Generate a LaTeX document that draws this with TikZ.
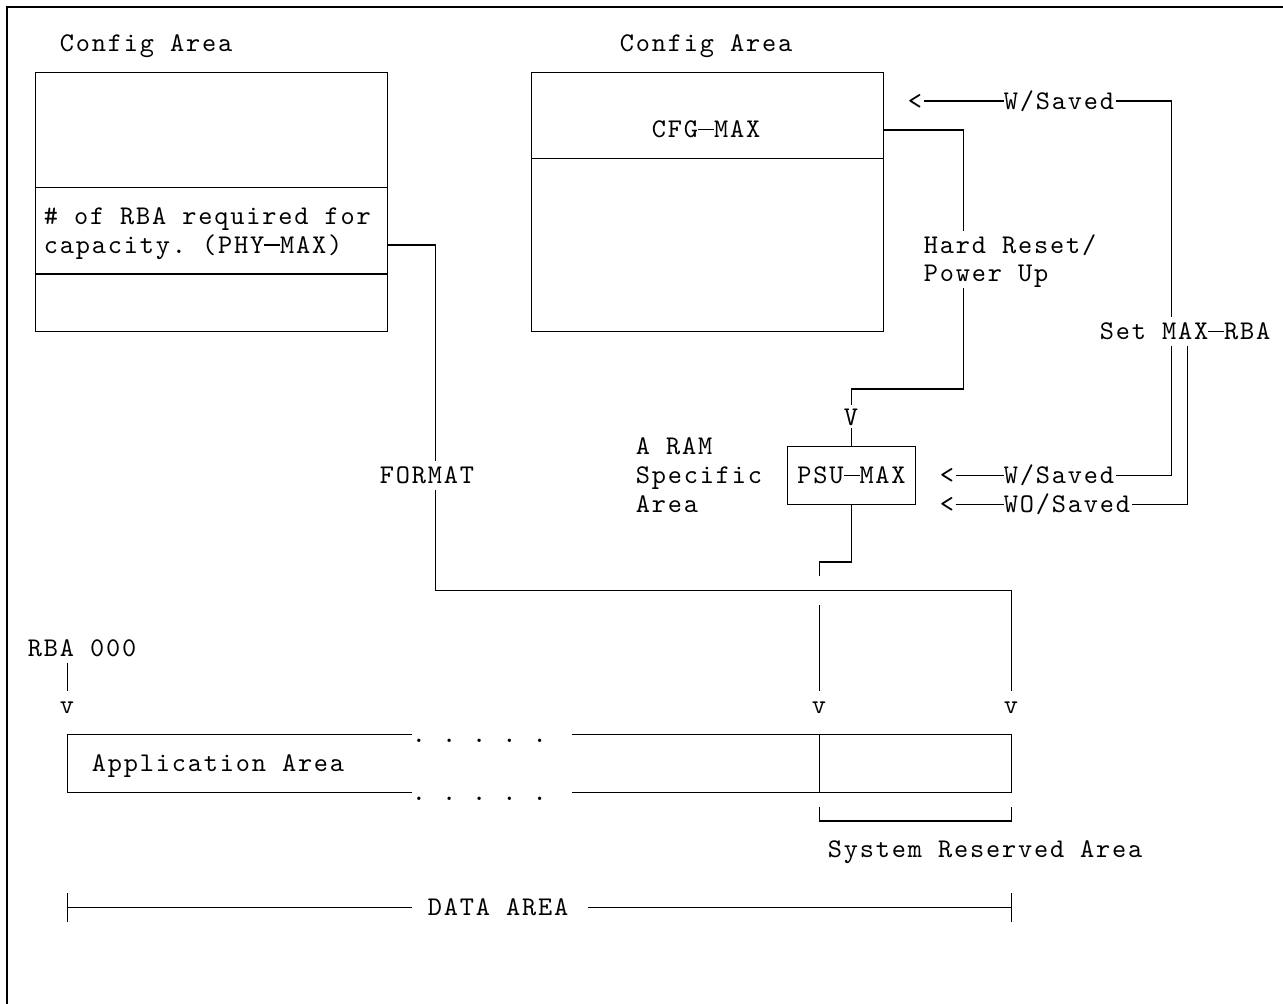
\documentclass[tikz,border=0pt]{standalone}
\usepackage{fontspec}
\newfontfamily\asciifont{lmmono10-regular}[Extension=.otf, LetterSpace=6.74]
\usetikzlibrary{positioning}

\newcommand\asciisize{\asciifont\fontsize{13.5}{14.4}\selectfont\frenchspacing\spaceskip=8pt\relax}
\newcommand\cdash{\rule[3.7pt]{8pt}{0.6pt}}
\tikzset{
  txt/.style={inner sep=0pt, text height=8pt, text depth=0pt, anchor=west, font=\asciisize},
  box/.style={draw, line width=0.65pt, inner sep=0pt, font=\asciisize, text height=8pt, text depth=0pt},
  wire/.style={line width=0.65pt},
}

\begin{document}
\begin{tikzpicture}[x=8pt, y=-14.4pt]
\useasboundingbox (-0.21875,-1.5104) rectangle (79.97,33.35);
% frame
\draw[wire] (0.21875,33.35) |- (79.97,-1.2674);

% config areas
\node[txt] (titleA) at (3.5,0) {Config Area};
\node[txt] (titleB) at (38.5,0) {Config Area};
\node[box, minimum width=176pt, minimum height=129.6pt] (cfgA) at (13,5.5) {};
\node[box, minimum width=176pt, minimum height=129.6pt] (cfgB) at (44,5.5) {};
\draw[wire] (2,5) -- (24,5);
\draw[wire] (2,8) -- (24,8);
\draw[wire] (33,4) -- (55,4);
\node[txt] (phyA) at (2.5,6) {\# of RBA required for};
\node[txt] (phyB) at (2.5,7) {capacity. (PHY\cdash MAX)};
\node[txt] (cfgmax) at (40.5,3) {CFG\cdash MAX};

% PSU
\node[box, minimum width=64pt, minimum height=28.8pt] (psu) at (53,15) {PSU\cdash MAX};
\node[txt] (ram1) at (39.5,14) {A RAM};
\node[txt] (ram2) at (39.5,15) {Specific};
\node[txt] (ram3) at (39.5,16) {Area};
\node[txt] (vpsu) at (52.5,13) {V};

% hard reset
\node[txt] (reset1) at (57.5,7) {Hard Reset/};
\node[txt] (reset2) at (57.5,8) {Power Up};
\draw[wire] (cfgB.east |- cfgmax.west) -- (60,3) -- (60,6.5);
\draw[wire] (60,8.5) -- (60,12) -- (53,12) -- (53,12.55);
\draw[wire] (53,13.35) -- (psu.north);

% set max-rba
\node[txt] (ltA) at (56.5,2) {<};
\node[txt] (savA) at (62.5,2) {W/Saved};
\node[txt] (setmax) at (68.5,10) {Set MAX\cdash RBA};
\node[txt] (ltB) at (58.5,15) {<};
\node[txt] (savB) at (62.5,15) {W/Saved};
\node[txt] (ltC) at (58.5,16) {<};
\node[txt] (savC) at (62.5,16) {WO/Saved};
\draw[wire] (57.5,2) -- (62.5,2);
\draw[wire] (69.5,2) -- (73,2) -- (73,9.5);
\draw[wire] (73,10.5) -- (73,15) -- (69.5,15);
\draw[wire] (59.5,15) -- (62.5,15);
\draw[wire] (74,10.5) -- (74,16) -- (70.5,16);
\draw[wire] (59.5,16) -- (62.5,16);

% format
\node[txt] (fmt) at (23.5,15) {FORMAT};
\draw[wire] (cfgA.east |- phyB.west) -| (27,14.5);
\draw[wire] (27,15.5) -- (27,19) -- (63,19) -- (63,22.5);
\draw[wire] (psu.south) -- (53,18) -- (51,18) -- (51,18.5);
\draw[wire] (51,19.5) -- (51,22.5);

% data area
\node[txt] (rba) at (1.5,21) {RBA 000};
\draw[wire] (4,21.5) -- (4,22.5);
\node[txt] (vA) at (3.5,23) {v};
\node[txt] (vB) at (50.5,23) {v};
\node[txt] (vC) at (62.5,23) {v};
\node[txt] (dotsA) at (25.5,24) {. . . . .};
\node[txt] (dotsB) at (25.5,26) {. . . . .};
\node[txt] (app) at (5.5,25) {Application Area};
\draw[wire] (25.5,24) -- (4,24) -- (4,26) -- (25.5,26);
\draw[wire] (35.5,24) -- (63,24) -- (63,26) -- (35.5,26);
\draw[wire] (51,24) -- (51,26);
\draw[wire] (51,26.5) -- (51,27) -- (63,27) -- (63,26.5);
\node[txt] (sys) at (51.5,28) {System Reserved Area};
\node[txt] (data) at (26.5,30) {DATA AREA};
\draw[wire] (4,29.5) -- (4,30.5);
\draw[wire] (4,30) -- (25.5,30);
\draw[wire] (36.5,30) -- (63,30);
\draw[wire] (63,29.5) -- (63,30.5);
\end{tikzpicture}
\end{document}
